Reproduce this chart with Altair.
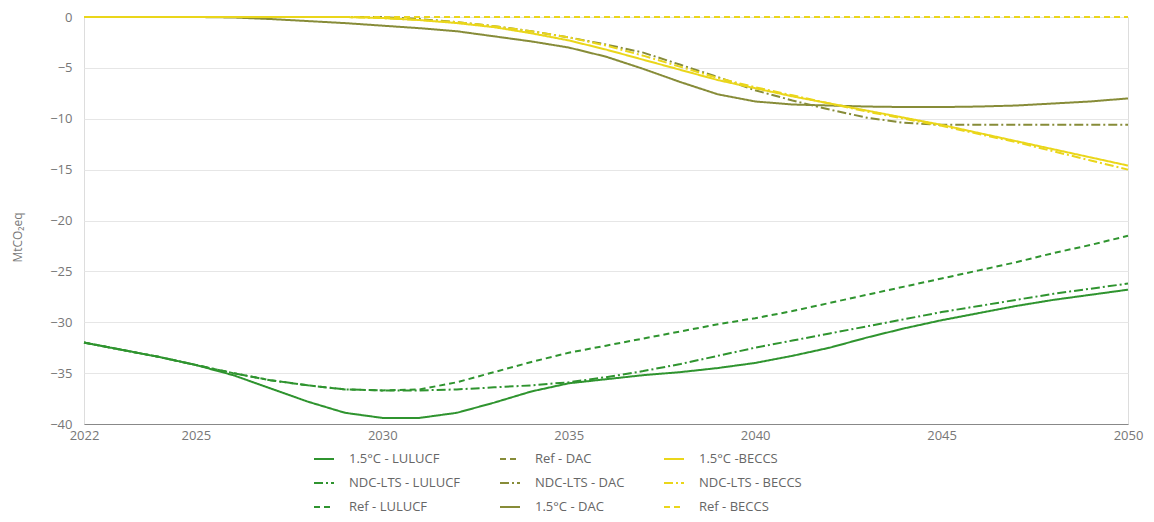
import altair as alt
import pandas as pd

years = list(range(2022, 2051))

lulucf_15 = [-32.0, -32.7, -33.4, -34.2, -35.2, -36.5, -37.8, -38.9, -39.4, -39.4,
             -38.9, -37.9, -36.8, -36.0, -35.6, -35.2, -34.9, -34.5, -34.0, -33.3,
             -32.5, -31.5, -30.6, -29.8, -29.1, -28.4, -27.8, -27.3, -26.8]
lulucf_ndc = [-32.0, -32.7, -33.4, -34.2, -35.0, -35.7, -36.2, -36.6, -36.7, -36.7,
              -36.6, -36.4, -36.2, -35.9, -35.4, -34.8, -34.1, -33.3, -32.5, -31.8,
              -31.1, -30.4, -29.7, -29.0, -28.4, -27.8, -27.2, -26.7, -26.2]
lulucf_ref = [-32.0, -32.7, -33.4, -34.2, -35.0, -35.7, -36.2, -36.6, -36.7, -36.6,
              -35.9, -34.9, -33.9, -33.0, -32.3, -31.6, -30.9, -30.2, -29.6, -28.9,
              -28.1, -27.3, -26.5, -25.7, -24.9, -24.1, -23.2, -22.4, -21.5]
dac_15 = [0.0, 0.0, 0.0, 0.0, -0.05, -0.2, -0.4, -0.6, -0.85, -1.1,
          -1.4, -1.9, -2.4, -3.0, -3.9, -5.1, -6.4, -7.6, -8.3, -8.6,
          -8.7, -8.8, -8.85, -8.85, -8.8, -8.7, -8.5, -8.3, -8.0]
dac_ndc = [0.0, 0.0, 0.0, 0.0, 0.0, 0.0, 0.0, 0.0, 0.0, -0.2,
           -0.5, -0.9, -1.4, -2.0, -2.7, -3.5, -4.7, -5.9, -7.2, -8.2,
           -9.1, -9.9, -10.4, -10.6, -10.6, -10.6, -10.6, -10.6, -10.6]
dac_ref = [0.0] * 29
beccs_15 = [0.0, 0.0, 0.0, 0.0, 0.0, 0.0, 0.0, 0.0, -0.1, -0.3,
            -0.6, -1.0, -1.6, -2.3, -3.2, -4.2, -5.2, -6.2, -7.0, -7.8,
            -8.5, -9.2, -9.9, -10.6, -11.4, -12.2, -13.0, -13.8, -14.6]
beccs_ndc = [0.0, 0.0, 0.0, 0.0, 0.0, 0.0, 0.0, 0.0, -0.1, -0.3,
             -0.5, -0.9, -1.4, -2.0, -2.8, -3.8, -4.9, -6.0, -6.9, -7.7,
             -8.5, -9.3, -10.0, -10.7, -11.5, -12.3, -13.2, -14.1, -15.0]
beccs_ref = [0.0] * 29

series = [
    ("1.5°C - LULUCF", lulucf_15),
    ("NDC-LTS - LULUCF", lulucf_ndc),
    ("Ref - LULUCF", lulucf_ref),
    ("Ref - DAC", dac_ref),
    ("NDC-LTS - DAC", dac_ndc),
    ("1.5°C - DAC", dac_15),
    ("1.5°C -BECCS", beccs_15),
    ("NDC-LTS - BECCS", beccs_ndc),
    ("Ref - BECCS", beccs_ref),
]

rows = []
for order, (name, vals) in enumerate(series):
    for y, v in zip(years, vals):
        rows.append({"year": y, "value": v, "series": name, "order": order})
df = pd.DataFrame(rows)

legend_order = [name for name, _ in series]
green = "#2f942f"
olive = "#878c38"
yellow = "#ead61a"
colors = [green, green, green, olive, olive, olive, yellow, yellow, yellow]
solid = [1, 0]
dashdot = [9, 3, 2, 3]
dashed = [6, 4]
dashes = [solid, dashdot, dashed, dashed, dashdot, solid, solid, dashdot, dashed]

font = "Open Sans"

chart = alt.Chart(df).mark_line(strokeWidth=2).encode(
    x=alt.X("year:Q",
            scale=alt.Scale(domain=[2022, 2050], nice=False, zero=False),
            axis=alt.Axis(values=[2022, 2025, 2030, 2035, 2040, 2045, 2050],
                          format="d", title=None, grid=False, ticks=False,
                          domainColor="#888888", labelColor="#777777",
                          labelFontSize=13, labelFont=font, labelPadding=5,
                          labelFlush=False)),
    y=alt.Y("value:Q",
            scale=alt.Scale(domain=[-40, 0], nice=False),
            axis=alt.Axis(values=[0, -5, -10, -15, -20, -25, -30, -35, -40],
                          title="MtCO₂eq", titleFont=font, titleFontSize=12,
                          titleFontWeight="normal", titleColor="#777777",
                          titleX=-60, titleY=220,
                          grid=True, gridColor="#e6e6e6", ticks=False, domain=False,
                          labelColor="#777777", labelFontSize=13, labelFont=font,
                          labelPadding=12)),
    color=alt.Color("series:N",
                    scale=alt.Scale(domain=legend_order, range=colors),
                    legend=alt.Legend(title=None, orient="none", legendX=229,
                                      legendY=431, columns=3, symbolType="stroke",
                                      symbolSize=400, symbolStrokeWidth=2,
                                      labelFont=font, labelFontSize=13,
                                      labelColor="#666666", columnPadding=35,
                                      rowPadding=6, labelOffset=14, padding=0)),
    strokeDash=alt.StrokeDash("series:N",
                              scale=alt.Scale(domain=legend_order, range=dashes),
                              legend=alt.Legend(title=None, orient="none")),
    order=alt.Order("order:Q"),
    detail="series:N",
).properties(
    width=1044, height=407,
    autosize=alt.AutoSizeParams(type="none"),
    padding={"left": 76, "top": 9, "right": 18, "bottom": 90},
).configure_view(stroke=None).configure(background="white")

chart.save("out.html", embed_options={"renderer": "svg", "actions": False})
